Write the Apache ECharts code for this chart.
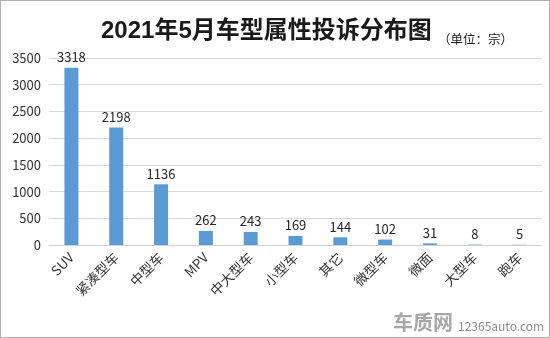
<!DOCTYPE html>
<html>
<head>
<meta charset="utf-8">
<script src="https://cdn.jsdelivr.net/npm/echarts@6/dist/echarts.min.js"></script>
<style>
html,body{margin:0;padding:0;background:#fff;}
#c{width:550px;height:338px;box-sizing:border-box;border:1px solid #b0b0b0;}
</style>
</head>
<body>
<div id="c"></div>
<script>
const categories = ['SUV','紧凑型车','中型车','MPV','中大型车','小型车','其它','微型车','微面','大型车','跑车'];
const complaints = [3318, 2198, 1136, 262, 243, 169, 144, 102, 31, 8, 5];
const yTicks = [0, 500, 1000, 1500, 2000, 2500, 3000, 3500];

const FONT = '"Noto Sans CJK SC", "Noto Sans", sans-serif';
const chart = echarts.init(document.getElementById('c'), null, {renderer: 'canvas'});
chart.setOption({
  animation: false,
  backgroundColor: '#fff',
  title: [{
    text: '2021年5月车型属性投诉分布图',
    left: 95, top: 13,
    textStyle: {fontFamily: '"Liberation Sans", "Noto Sans CJK SC", sans-serif', fontSize: 24, fontWeight: 'bold', color: '#1a1a1a'}
  }, {
    text: '（单位：宗）',
    left: 432, top: 27,
    textStyle: {fontFamily: FONT, fontSize: 12.5, fontWeight: 'normal', color: '#1a1a1a'}
  }],
  grid: {left: 48, right: 7, top: 57, bottom: 92, containLabel: false},
  xAxis: {
    type: 'category',
    data: categories,
    axisLine: {show: true, lineStyle: {color: '#d0d0d0', width: 1}},
    axisTick: {show: false},
    axisLabel: {rotate: 45, interval: 0, margin: 10, fontFamily: FONT, fontSize: 13.5, color: '#333'}
  },
  yAxis: {
    type: 'value',
    min: yTicks[0], max: yTicks[yTicks.length - 1], interval: 500,
    axisLine: {show: false},
    axisTick: {show: false},
    splitLine: {lineStyle: {color: '#d9d9d9', width: 1}},
    axisLabel: {margin: 8, fontFamily: FONT, fontSize: 13, color: '#333', formatter: v => String(v)}
  },
  series: [{
    type: 'bar',
    data: complaints,
    barWidth: 14,
    itemStyle: {color: '#5b9bd5'},
    label: {show: true, position: 'top', distance: 4, fontFamily: FONT, fontSize: 13, color: '#262626'}
  }],
  graphic: [{
    type: 'text', left: 392, top: 311,
    style: {text: '车质网', font: 'bold 20px ' + FONT, fill: '#a8a8a8'}
  }, {
    type: 'text', left: 457, top: 319,
    style: {text: '12365auto.com', font: '12px ' + FONT, fill: '#8c8c8c'}
  }]
});
</script>
</body>
</html>
